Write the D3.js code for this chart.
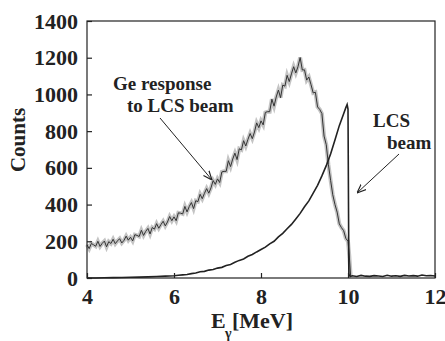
<!DOCTYPE html>
<html>
<head>
<meta charset="utf-8">
<script src="https://cdn.jsdelivr.net/npm/d3@7"></script>
<style>
  body { margin: 0; background: #fff; }
</style>
</head>
<body>
<div id="chart"></div>
<script>
// Ge detector response (counts), sampled every 0.05 MeV from 4.00 to 10.00
const geStart = 4.0, geStep = 0.05;
const geCounts = [
  181, 160, 188, 181, 173, 200, 172, 189, 201, 170,
  198, 188, 211, 187, 202, 214, 191, 205, 228, 206,
  222, 202, 236, 232, 226, 260, 232, 254, 270, 240,
  275, 266, 296, 271, 291, 309, 284, 305, 335, 312,
  333, 312, 355, 353, 349, 390, 360, 389, 411, 378,
  421, 416, 456, 432, 461, 487, 462, 491, 531, 510,
  540, 520, 578, 581, 581, 639, 607, 648, 680, 645,
  704, 698, 748, 719, 755, 787, 759, 795, 845, 819,
  856, 834, 902, 906, 906, 974, 936, 986, 1024, 982,
  1051, 1045, 1104, 1070, 1112, 1151, 1117, 1151, 1201, 1133,
  1134, 1078, 1095, 1053, 1008, 1012, 932, 918, 896, 773,
  726, 617, 532, 453, 401, 359, 295, 274, 258, 216,
  200
];
// Ge edge after 10 MeV
const geTailE = [10.03, 10.06];
const geTailC = [120, 12];

// LCS beam spectrum
const beamE = [4.0, 4.2, 4.4, 4.6, 4.8, 5.0, 5.2, 5.4, 5.6, 5.8,
  6.0, 6.1, 6.2, 6.3, 6.4, 6.5, 6.6, 6.7, 6.8, 6.9,
  7.0, 7.1, 7.2, 7.3, 7.4, 7.5, 7.6, 7.7, 7.8, 7.9,
  8.0, 8.1, 8.2, 8.3, 8.4, 8.5, 8.6, 8.7, 8.8, 8.9,
  9.0, 9.1, 9.2, 9.3, 9.4, 9.5, 9.6, 9.7, 9.8, 9.9,
  9.95, 9.98, 10.0, 10.02, 10.05,
  10.1, 10.2, 10.3, 10.4, 10.5, 10.6, 10.7, 10.8, 10.9, 11.0,
  11.1, 11.2, 11.3, 11.4, 11.5, 11.6, 11.7, 11.8, 11.9, 12.0];
const beamC = [0, 0, 1, 2, 3, 4, 5, 6, 8, 10,
  12, 15, 17, 19, 24, 27, 34, 36, 43, 46,
  54, 58, 68, 74, 86, 96, 104, 118, 128, 142,
  155, 168, 186, 200, 224, 243, 268, 292, 322, 352,
  388, 420, 462, 505, 556, 612, 676, 752, 830, 895,
  928, 945, 920, 20, 8,
  12, 8, 14, 10, 9, 13, 11, 8, 15, 10,
  12, 9, 14, 11, 13, 10, 16, 12, 14, 11];

const xTicks = [4, 6, 8, 10, 12];
const yTicks = [0, 200, 400, 600, 800, 1000, 1200, 1400];

const W = 445, H = 341;
const margin = {top: 21, right: 10, bottom: 63, left: 87};
const serif = "'Liberation Serif'";
const ink = "#222";

const svg = d3.select("#chart").append("svg")
  .attr("width", W)
  .attr("height", H);

const x = d3.scaleLinear().domain([4, 12]).range([margin.left, W - margin.right]);
const y = d3.scaleLinear().domain([0, 1400]).range([H - margin.bottom, margin.top]);

const gePts = geCounts.map((c, i) => [geStart + i * geStep, c])
  .concat(geTailE.map((e, i) => [e, geTailC[i]]));
const beamPts = beamE.map((e, i) => [e, beamC[i]]);

const line = d3.line().x(d => x(d[0])).y(d => y(d[1]));

// grey band under the Ge trace
svg.append("path")
  .datum(gePts)
  .attr("d", line)
  .attr("fill", "none")
  .attr("stroke", "#c4c4c4")
  .attr("stroke-width", 4);
svg.append("path")
  .datum(gePts)
  .attr("d", line)
  .attr("fill", "none")
  .attr("stroke", "#333")
  .attr("stroke-width", 1);

svg.append("path")
  .datum(beamPts)
  .attr("d", line)
  .attr("fill", "none")
  .attr("stroke", ink)
  .attr("stroke-width", 1.6);

// frame
svg.append("rect")
  .attr("x", x(4)).attr("y", y(1400))
  .attr("width", x(12) - x(4)).attr("height", y(0) - y(1400))
  .attr("fill", "none").attr("stroke", ink).attr("stroke-width", 1.2);

// axes with inward ticks
const xAxis = svg.append("g")
  .attr("transform", `translate(0,${y(0)})`)
  .call(d3.axisBottom(x).tickValues(xTicks).tickFormat(d3.format("d"))
    .tickSizeInner(-5).tickSizeOuter(0).tickPadding(10));
const yAxis = svg.append("g")
  .attr("transform", `translate(${x(4)},0)`)
  .call(d3.axisLeft(y).tickValues(yTicks).tickFormat(d3.format("d"))
    .tickSizeInner(-5).tickSizeOuter(0).tickPadding(9));

[xAxis, yAxis].forEach(g => {
  g.attr("font-family", null).attr("font-size", null);
  g.select(".domain").remove();
  g.selectAll("line").attr("stroke", ink).attr("stroke-width", 1.2);
  g.selectAll("text")
    .style("font-family", serif)
    .style("font-weight", "bold")
    .style("font-size", "22px")
    .attr("fill", ink);
});
xAxis.selectAll("text").attr("dy", "0.71em");

function label(px, py, size, str) {
  return svg.append("text")
    .attr("x", px).attr("y", py)
    .style("font-family", serif)
    .style("font-weight", "bold")
    .style("font-size", size + "px")
    .attr("fill", ink)
    .text(str);
}

// axis titles
svg.append("text")
  .attr("transform", "translate(25,140) rotate(-90)")
  .attr("text-anchor", "middle")
  .style("font-family", serif)
  .style("font-weight", "bold")
  .style("font-size", "21px")
  .attr("fill", ink)
  .text("Counts");

label(211, 328, 22, "E");
label(225, 338, 14, "γ");
label(232, 328, 22, "[MeV]");

// annotations
svg.append("defs").append("marker")
  .attr("id", "arr")
  .attr("viewBox", "0 0 10 10")
  .attr("refX", 10).attr("refY", 5)
  .attr("markerWidth", 9).attr("markerHeight", 9)
  .attr("markerUnits", "userSpaceOnUse")
  .attr("orient", "auto")
  .append("path")
  .attr("d", "M0,1 L10,5 L0,9")
  .attr("fill", "none")
  .attr("stroke", ink)
  .attr("stroke-width", 1.3);

label(113, 90, 19, "Ge response");
label(127, 112, 19, "to LCS beam");
svg.append("line")
  .attr("x1", 160).attr("y1", 118).attr("x2", 212).attr("y2", 180)
  .attr("stroke", ink).attr("stroke-width", 1)
  .attr("marker-end", "url(#arr)");

label(373, 127, 19, "LCS");
label(387, 149, 19, "beam");
svg.append("line")
  .attr("x1", 399).attr("y1", 154).attr("x2", 357).attr("y2", 193)
  .attr("stroke", ink).attr("stroke-width", 1)
  .attr("marker-end", "url(#arr)");
</script>
</body>
</html>
